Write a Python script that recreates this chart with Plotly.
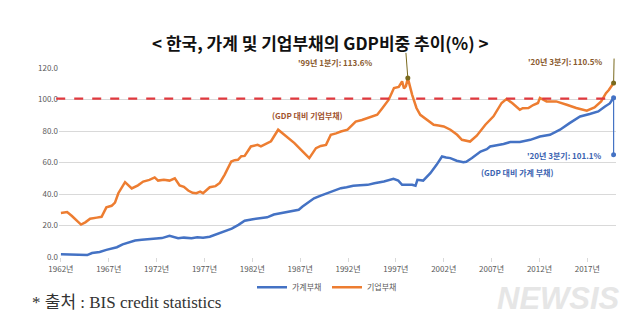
import plotly.graph_objects as go

# ---------------- data ----------------
corp_t = [1962.75, 1963.4, 1963.9, 1964.4, 1964.85, 1965.3, 1965.8, 1966.5, 1967.0, 1967.5,
          1968.05, 1968.4, 1968.75, 1969.45, 1969.8, 1970.15, 1970.8, 1971.35, 1972.0, 1972.55,
          1972.9, 1973.5, 1974.1, 1974.65, 1975.15, 1975.6, 1976.05, 1976.5, 1976.9, 1977.3,
          1977.6, 1978.3, 1978.9, 1979.35, 1979.85, 1980.55, 1980.9, 1981.25, 1981.6, 1981.95,
          1982.6, 1983.3, 1983.65, 1984.2, 1984.7, 1985.45, 1986.1, 1986.6, 1987.15, 1988.0,
          1988.7, 1989.4, 1989.9, 1990.45, 1990.95, 1991.5, 1992.0, 1992.7, 1993.55, 1994.2,
          1994.8, 1995.3, 1995.8, 1996.35, 1997.0, 1997.55, 1998.05, 1998.4, 1998.6, 1998.8,
          1999.0, 1999.45, 1999.9, 2000.3, 2001.0, 2001.7, 2002.2, 2002.75, 2003.45, 2004.15,
          2004.65, 2005.1, 2005.5, 2006.2, 2007.1, 2007.95, 2008.8, 2009.3, 2009.9, 2010.7,
          2011.0, 2011.6, 2012.1, 2012.6, 2012.8, 2013.5, 2014.5, 2015.6, 2016.6, 2017.7,
          2018.5, 2019.2, 2019.7, 2020.0, 2020.5]
corp_v = [28.0, 28.5, 26.0, 23.0, 20.6, 22.0, 24.3, 25.0, 25.5, 31.5,
          32.5, 34.5, 40.5, 47.5, 45.5, 43.5, 45.5, 47.9, 49.0, 50.5,
          48.5, 49.0, 48.5, 50.0, 45.4, 44.5, 42.2, 40.8, 40.5, 41.5,
          40.5, 44.3, 45.0, 47.0, 52.2, 60.6, 61.5, 61.7, 64.0, 64.2,
          70.2, 71.2, 70.2, 72.0, 73.5, 80.8, 77.6, 75.0, 72.3, 67.0,
          62.8, 69.1, 70.5, 71.2, 77.6, 78.5, 79.7, 80.8, 86.0, 87.0,
          88.2, 89.5, 90.3, 94.6, 99.9, 107.3, 108.0, 111.5, 107.0, 108.5,
          113.6, 103.0, 94.6, 90.3, 87.2, 84.0, 83.5, 82.9, 80.8, 77.6,
          74.4, 73.8, 73.3, 77.0, 84.0, 89.3, 97.8, 100.3, 97.8, 93.5,
          94.5, 94.6, 96.5, 97.8, 101.0, 98.8, 98.8, 96.7, 94.6, 92.9,
          95.0, 98.8, 104.0, 106.0, 110.5]

hh_t = [1962.75, 1963.4, 1964.0, 1964.85, 1965.5, 1966.0, 1966.8, 1967.5, 1968.1, 1968.6,
        1969.2, 1969.7, 1970.5, 1971.2, 1972.0, 1972.6, 1973.3, 1974.1, 1974.6, 1975.0,
        1975.6, 1976.4, 1977.0, 1977.6, 1978.3, 1979.0, 1979.9, 1980.6, 1981.3, 1981.95,
        1982.8, 1983.6, 1984.3, 1985.0, 1985.6, 1986.4, 1987.1, 1987.6, 1988.0, 1988.7,
        1989.2, 1989.9, 1990.6, 1991.3, 1992.0, 1992.6, 1993.3, 1994.0, 1994.8, 1995.5,
        1996.5, 1997.5, 1998.0, 1998.4, 1999.45, 1999.8, 2000.0, 2000.6, 2001.35, 2002.0,
        2002.57, 2003.0, 2003.44, 2004.1, 2004.8, 2005.1, 2005.7, 2006.6, 2007.25, 2007.6,
        2008.3, 2009.0, 2009.7, 2010.7, 2011.8, 2012.8, 2013.85, 2014.9, 2015.9, 2017.0,
        2018.0, 2018.9, 2019.6, 2020.1, 2020.5]
hh_v = [1.7, 1.5, 1.2, 1.3, 1.2, 2.5, 3.2, 4.5, 5.5, 6.2,
        8.0, 9.1, 10.5, 10.9, 11.3, 11.2, 12.0, 13.4, 12.8, 11.9,
        12.3, 11.9, 12.5, 12.3, 12.9, 14.5, 16.4, 18.0, 20.4, 23.0,
        24.0, 24.8, 25.2, 27.0, 27.8, 28.5, 29.5, 30.0, 32.0, 35.0,
        37.3, 39.0, 40.5, 42.0, 43.7, 44.3, 45.2, 45.6, 45.8, 46.8,
        47.9, 49.6, 48.5, 45.8, 45.8, 45.2, 49.0, 48.5, 53.2, 58.5,
        63.8, 63.2, 62.8, 61.1, 60.2, 60.5, 62.8, 67.0, 68.5, 70.2,
        71.0, 71.7, 73.0, 73.0, 74.4, 76.5, 77.6, 80.8, 85.0, 89.2,
        90.8, 92.4, 95.6, 97.5, 101.1]

tick_years = [1962, 1967, 1972, 1977, 1982, 1987, 1992, 1997, 2002, 2007, 2012, 2017]
tick_labels = [f"{y}년" for y in tick_years]
y_ticks = [0, 20, 40, 60, 80, 100, 120]

series_names = ["가계부채", "기업부채"]
ORANGE = "#ED7D31"
BLUE = "#4472C4"
FONT = "Noto Sans CJK KR"

fig = go.Figure()
fig.add_trace(go.Scatter(x=hh_t, y=hh_v, mode="lines", name=series_names[0],
                         line=dict(color=BLUE, width=2.5)))
fig.add_trace(go.Scatter(x=corp_t, y=corp_v, mode="lines", name=series_names[1],
                         line=dict(color=ORANGE, width=2.5)))

# peak and end markers
peak_i = corp_v.index(max(corp_v))
fig.add_trace(go.Scatter(x=[corp_t[peak_i], corp_t[-1]], y=[corp_v[peak_i], corp_v[-1]],
                         mode="markers", marker=dict(color="#7a6a1e", size=5),
                         showlegend=False, hoverinfo="skip"))
fig.add_trace(go.Scatter(x=[hh_t[-1], hh_t[-1]], y=[hh_v[-1], 65],
                         mode="lines+markers", line=dict(color=BLUE, width=1.2),
                         marker=dict(color=BLUE, size=5),
                         showlegend=False, hoverinfo="skip"))

tick_pos = [y + 0.75 for y in tick_years]

fig.update_layout(
    width=640, height=326,
    margin=dict(l=59, r=24, t=68, b=69),
    paper_bgcolor="white", plot_bgcolor="white",
    font=dict(family=FONT, size=8, color="#595959"),
    showlegend=True,
    legend=dict(orientation="h", x=(327 - 59) / 557, xanchor="center", y=-0.16, yanchor="middle",
                font=dict(size=8, color="#595959"), entrywidth=30, entrywidthmode="pixels",
                itemwidth=30, tracegroupgap=0),
    xaxis=dict(range=[1962.55, 2020.75], tickmode="array", tickvals=tick_pos,
               ticktext=tick_labels, showgrid=False, zeroline=False,
               ticks="outside", ticklen=4, tickcolor="#d9d9d9", showline=False,
               tickfont=dict(size=8, color="#595959")),
    yaxis=dict(range=[0, 120], tickmode="array", tickvals=y_ticks,
               ticktext=[f"{v:.1f}" for v in y_ticks], showgrid=True,
               gridcolor="#d9d9d9", gridwidth=1, zeroline=False,
               tickfont=dict(size=8, color="#595959")),
)

# red dashed 100 line
fig.add_shape(type="line", xref="paper", yref="y", x0=-0.005, x1=0.995, y0=100.5, y1=100.5,
              line=dict(color="#E0393E", width=2.2, dash="dash"))
# leader lines to labels
fig.add_shape(type="line", xref="x", yref="paper", x0=corp_t[peak_i], x1=corp_t[peak_i] - 0.2,
              y0=corp_v[peak_i] / 120, y1=1.08, line=dict(color="#7a6a1e", width=1))
fig.add_shape(type="line", xref="x", yref="paper", x0=corp_t[-1], x1=corp_t[-1] + 0.05,
              y0=corp_v[-1] / 120, y1=1.05, line=dict(color="#7a6a1e", width=1))

# title
fig.add_annotation(text="<b>< 한국, 가계 및 기업부채의 GDP비중 추이(%) ></b>",
                   xref="paper", yref="paper", x=(320 - 59) / 557, y=(257 - 43) / 189,
                   xanchor="center", yanchor="middle", showarrow=False,
                   font=dict(family=FONT, size=17, color="#111111"))

BROWN = "#8a5a2e"
fig.add_annotation(text="<b>'99년 1분기: 113.6%</b>", xref="paper", yref="paper",
                   x=(375 - 59) / 557, y=(257 - 63) / 189, xanchor="right", yanchor="middle",
                   showarrow=False, font=dict(family=FONT, size=8, color=BROWN))
fig.add_annotation(text="<b>'20년 3분기: 110.5%</b>", xref="paper", yref="paper",
                   x=(605 - 59) / 557, y=(257 - 61) / 189, xanchor="right", yanchor="middle",
                   showarrow=False, font=dict(family=FONT, size=8, color=BROWN))
fig.add_annotation(text="<b>(GDP 대비 기업부채)</b>", xref="paper", yref="paper",
                   x=(307 - 59) / 557, y=(257 - 115) / 189, xanchor="center", yanchor="middle",
                   showarrow=False, font=dict(family=FONT, size=8, color="#a0522d"))
fig.add_annotation(text="<b>'20년 3분기: 101.1%</b>", xref="paper", yref="paper",
                   x=(604 - 59) / 557, y=(257 - 155) / 189, xanchor="right", yanchor="middle",
                   showarrow=False, font=dict(family=FONT, size=8, color="#3a62b0"))
fig.add_annotation(text="<b>(GDP 대비 가계 부채)</b>", xref="paper", yref="paper",
                   x=(517 - 59) / 557, y=(257 - 172) / 189, xanchor="center", yanchor="middle",
                   showarrow=False, font=dict(family=FONT, size=8, color="#3a62b0"))

# source
fig.add_annotation(text="* 출처 : BIS credit statistics", xref="paper", yref="paper",
                   x=(30 - 59) / 557, y=(257 - 302) / 189, xanchor="left", yanchor="middle",
                   showarrow=False, font=dict(family="Liberation Serif, " + FONT, size=17, color="#333333"))
# watermark
fig.add_annotation(text="<b><i>NEWSIS</i></b>", xref="paper", yref="paper",
                   x=(558 - 59) / 557, y=(257 - 298) / 189, xanchor="center", yanchor="middle",
                   showarrow=False, font=dict(family="Liberation Sans", size=31, color="#e6e6e6"))

fig.write_html("out.html")
